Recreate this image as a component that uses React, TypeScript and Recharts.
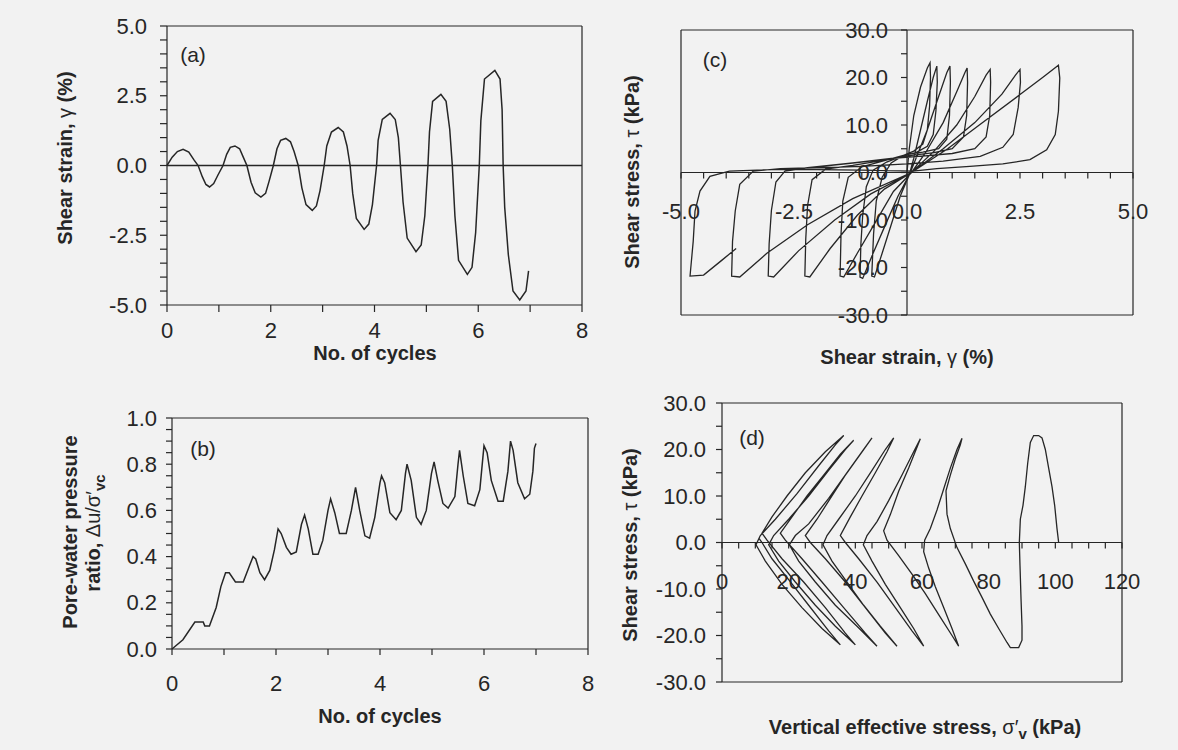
import React from "react";
import { LineChart, Line, XAxis, YAxis, ReferenceLine } from "recharts";

const W = 1178;
const H = 750;
const INK = "#262626";
const BG = "#f2f2f2";
const FONT = "'Liberation Sans', Arial, sans-serif";
const TICK_FS = 22;
const TITLE_FS = 20;

// (a) shear strain (%) against number of cycles
const strainHistory: [number, number][] = [
  [0.0, 0.0], [0.1, 0.3], [0.2, 0.5], [0.31, 0.58], [0.42, 0.48], [0.52, 0.2],
  [0.6, 0.0], [0.68, -0.4], [0.75, -0.68], [0.82, -0.77], [0.9, -0.65], [0.98, -0.35],
  [1.08, 0.0], [1.15, 0.4], [1.22, 0.65], [1.31, 0.7], [1.4, 0.6], [1.47, 0.3],
  [1.54, 0.0], [1.62, -0.6], [1.7, -0.98], [1.81, -1.13], [1.9, -1.0], [1.97, -0.55],
  [2.05, 0.0], [2.12, 0.6], [2.19, 0.9], [2.29, 0.97], [2.38, 0.85], [2.45, 0.5],
  [2.53, 0.0], [2.6, -0.8], [2.68, -1.4], [2.8, -1.61], [2.88, -1.45], [2.95, -0.9],
  [3.03, 0.0], [3.08, 0.7], [3.17, 1.2], [3.3, 1.36], [3.4, 1.2], [3.47, 0.7],
  [3.53, 0.0], [3.58, -1.0], [3.65, -1.9], [3.8, -2.29], [3.89, -2.1], [3.96, -1.4],
  [4.04, 0.0], [4.07, 0.9], [4.15, 1.65], [4.3, 1.87], [4.4, 1.65], [4.46, 1.0],
  [4.5, 0.0], [4.55, -1.3], [4.63, -2.6], [4.8, -3.09], [4.9, -2.85], [4.97, -1.8],
  [5.03, 0.0], [5.06, 1.2], [5.12, 2.3], [5.28, 2.55], [5.38, 2.3], [5.45, 1.3],
  [5.5, 0.0], [5.55, -1.8], [5.62, -3.4], [5.79, -3.9], [5.88, -3.65], [5.95, -2.4],
  [6.02, 0.0], [6.05, 1.6], [6.12, 3.1], [6.32, 3.41], [6.42, 3.1], [6.46, 2.0],
  [6.48, 0.0], [6.51, -1.5], [6.58, -3.2], [6.67, -4.5], [6.8, -4.82], [6.92, -4.5],
  [6.97, -3.78],
];

// (b) pore-water pressure ratio against number of cycles
const poreRatioHistory: [number, number][] = [
  [0, 0], [0.21, 0.04], [0.44, 0.117], [0.6, 0.117], [0.63, 0.1], [0.72, 0.1],
  [0.85, 0.18], [0.94, 0.27], [1.03, 0.33], [1.1, 0.33], [1.22, 0.29], [1.37, 0.29],
  [1.49, 0.36], [1.56, 0.4], [1.61, 0.39], [1.69, 0.33], [1.78, 0.3], [1.88, 0.34],
  [1.97, 0.43], [2.04, 0.52], [2.1, 0.5], [2.2, 0.44], [2.29, 0.41], [2.39, 0.42],
  [2.49, 0.54], [2.55, 0.58], [2.62, 0.52], [2.71, 0.41], [2.81, 0.41], [2.9, 0.47],
  [3.0, 0.6], [3.05, 0.65], [3.13, 0.59], [3.22, 0.5], [3.35, 0.5], [3.45, 0.6],
  [3.53, 0.7], [3.61, 0.6], [3.71, 0.49], [3.8, 0.48], [3.9, 0.57], [4.0, 0.72],
  [4.03, 0.75], [4.09, 0.72], [4.19, 0.59], [4.31, 0.56], [4.41, 0.6], [4.49, 0.76],
  [4.52, 0.8], [4.6, 0.73], [4.7, 0.57], [4.79, 0.54], [4.89, 0.6], [4.99, 0.76],
  [5.04, 0.81], [5.11, 0.73], [5.21, 0.63], [5.31, 0.61], [5.44, 0.66], [5.5, 0.8],
  [5.53, 0.86], [5.6, 0.75], [5.69, 0.63], [5.82, 0.62], [5.92, 0.69], [6.0, 0.88],
  [6.06, 0.85], [6.14, 0.73], [6.27, 0.64], [6.37, 0.64], [6.46, 0.77], [6.51, 0.9],
  [6.56, 0.86], [6.65, 0.72], [6.78, 0.65], [6.88, 0.67], [6.94, 0.77], [6.97, 0.87],
  [7.0, 0.89],
];

// (c) shear stress (kPa) against shear strain (%)
const stressStrainLoops: [number, number][] = [
  [0, 0], [0.05, 5], [0.15, 12], [0.3, 18], [0.45, 22], [0.51, 23.1],
  [0.52, 20], [0.5, 14], [0.45, 9], [0.35, 6], [0.15, 4.5], [-0.1, 3.5], [-0.35, 2],
  [-0.55, -1], [-0.68, -6], [-0.74, -13], [-0.78, -21.8],
  [-0.72, -22], [-0.55, -17], [-0.35, -11], [-0.15, -5], [0.05, -0.5], [0.15, 3],
  [0.3, 9], [0.45, 15], [0.58, 20], [0.66, 22.4],
  [0.67, 19], [0.64, 13], [0.58, 8], [0.45, 5.5], [0.2, 4.2], [-0.1, 3.5], [-0.45, 2.2],
  [-0.75, 0.5], [-0.9, -3], [-0.98, -9], [-1.02, -15], [-1.04, -22],
  [-0.98, -22.3], [-0.75, -17], [-0.5, -11.5], [-0.2, -5], [0.05, -0.5], [0.2, 3],
  [0.45, 9], [0.7, 16], [0.88, 21], [0.95, 22.4],
  [0.96, 19], [0.94, 12], [0.88, 7], [0.7, 5], [0.35, 4.3], [0, 3.8], [-0.5, 2.5],
  [-1.0, 1.2], [-1.3, -1], [-1.42, -6], [-1.46, -13], [-1.48, -21.8],
  [-1.4, -22], [-1.1, -17], [-0.7, -10.5], [-0.3, -4], [0.1, 0], [0.4, 4], [0.8, 10.5],
  [1.1, 17], [1.28, 21], [1.33, 22],
  [1.34, 19], [1.32, 12], [1.25, 7.5], [1.0, 5], [0.6, 4.2], [0.1, 3.6], [-0.5, 2.6],
  [-1.2, 1.5], [-1.8, 0.7], [-2.1, -1.5], [-2.2, -7], [-2.24, -14], [-2.26, -21.8],
  [-2.15, -22], [-1.7, -16], [-1.1, -9], [-0.5, -3.5], [0.1, 0], [0.6, 4.5], [1.1, 10],
  [1.5, 16], [1.75, 20.5], [1.84, 21.7],
  [1.85, 19], [1.83, 12], [1.75, 7.5], [1.5, 5], [1.0, 4], [0.4, 3.5], [-0.3, 3.0],
  [-1.2, 2.0], [-2.2, 1.0], [-2.7, 0.3], [-2.9, -2], [-3.0, -8], [-3.05, -15], [-3.07, -21.8],
  [-2.95, -22], [-2.4, -16.5], [-1.6, -10], [-0.8, -4.5], [0.1, 0], [0.8, 5], [1.5, 10.5],
  [2.1, 16.5], [2.4, 20.5], [2.5, 21.7],
  [2.51, 19], [2.46, 13.7], [2.35, 8], [2.12, 5.3], [1.62, 3.4], [0.8, 2.4], [0, 1.8],
  [-1.0, 1.3], [-2.0, 1.0], [-2.8, 0.8], [-3.4, 0.3], [-3.7, -2.5], [-3.8, -8.1],
  [-3.86, -14.5], [-3.88, -21.8],
  [-3.7, -22], [-3.1, -17], [-2.2, -11], [-1.2, -5.5], [0.1, 0], [0.9, 5], [1.6, 10],
  [2.5, 16.4], [3.0, 20], [3.35, 22.6],
  [3.38, 19.9], [3.35, 12.9], [3.28, 8.0], [3.09, 4.8], [2.72, 2.7], [2.12, 1.8],
  [1.39, 1.3], [0.66, 0.8], [0.13, 0.3], [-1.0, 0.5], [-2.0, 0.6], [-3.0, 0.6],
  [-3.93, 0.3], [-4.36, -0.8], [-4.58, -3.9], [-4.69, -8.1], [-4.73, -14.5], [-4.8, -21.8],
  [-4.5, -21.6], [-4.1, -18.5], [-3.78, -16],
];

// (d) shear stress (kPa) against vertical effective stress (kPa)
const stressPath: [number, number][] = [
  [101, 0], [100.5, 3], [99.8, 8], [99, 12], [98, 16], [97, 20], [96, 22.5], [95, 23],
  [93.5, 23], [92.5, 21.5], [91.7, 17], [91, 12], [90.3, 8], [89.5, 5], [89.2, 0],
  [89.4, -5], [89.7, -12], [90, -18], [90, -21], [89, -22.6], [86.5, -22.6], [85.5, -21.5],
  [83, -18.5], [80.5, -15.4], [78, -11.8], [75.5, -8.3], [73, -4.6], [70.5, -1.1],
  [68.5, 3], [67.5, 6.1], [67.2, 11.1],
  [68.5, 14.5], [70, 18], [71.5, 21], [72, 22.4],
  [70.5, 20], [68.5, 16], [66.5, 11.5], [64.5, 7], [62.5, 3], [60.8, 0.5],
  [60.5, -2], [62, -5.5], [64, -9.5], [66.5, -14], [69, -18.5], [71, -22.3],
  [69, -20], [65, -15.5], [61, -11], [57, -6.8], [53, -2.8], [49.5, 0.5], [48.5, 2.5],
  [50.5, 6], [53, 11], [56, 16], [58.5, 20.5], [59.5, 22.3],
  [57.5, 19.5], [54, 14.5], [50, 9], [46.5, 4.5], [43.5, 1.5], [42.4, -0.5],
  [45, -4], [49, -9], [53.5, -14], [57.5, -18.5], [60.5, -22.3],
  [57, -19], [52, -14], [46.5, -8.5], [41, -3.5], [37, 0], [35.5, 1.5],
  [38.5, 5.5], [42, 10], [46, 15], [49.5, 19.5], [51.5, 22.5],
  [49, 20], [45, 15.5], [40, 10], [35, 5], [31.5, 1.5], [30.3, -0.5],
  [33, -4], [37.5, -8.5], [42.5, -13.5], [47.5, -18], [52.5, -22.3],
  [49, -19.5], [43, -14], [37, -8.5], [31, -3.5], [26.5, 0], [25, 1.5],
  [28.5, 5], [32.5, 9.5], [37, 14.5], [41.5, 19], [45, 22.5],
  [42.5, 20], [37.5, 15], [32, 9.5], [26, 4], [22, 1.5], [20.2, -0.5],
  [23, -4], [28, -8.5], [34, -13.5], [40.5, -18], [46.5, -22.3],
  [43, -19.5], [36.5, -14], [30, -8.5], [24, -3.5], [19, 0.5], [17.5, 2],
  [21, 5.5], [25.5, 10], [30.5, 14.5], [35.5, 19], [39.5, 22],
  [37, 20], [32, 15.5], [26, 10], [20, 5], [15.5, 1.5], [14, -0.5],
  [17, -4], [22, -8.5], [28, -13.5], [34, -18], [40, -22],
  [37, -19.5], [31, -14], [24.5, -8.5], [18, -3.5], [13.5, 0.5], [12, 2],
  [15, 5.5], [19.5, 10], [25, 15], [31, 19.5], [36.5, 23],
  [34, 21], [29, 16.5], [22.5, 10.5], [16, 5], [11.5, 1.5], [10.2, -0.5],
  [13, -4], [18, -9], [24, -14], [30, -18.5], [35.5, -22],
  [32, -19], [26, -13.5], [20, -8], [15, -3.5], [12, 0], [11, 1],
];

// ticks and labels
const cycleTicks = [0, 1, 2, 3, 4, 5, 6, 7, 8];
const cycleLabels = [0, 2, 4, 6, 8];
const strainTicks = [-5, -4.5, -4, -3.5, -3, -2.5, -2, -1.5, -1, -0.5, 0, 0.5, 1, 1.5, 2, 2.5, 3, 3.5, 4, 4.5, 5];
const strainLabels = [-5, -2.5, 0, 2.5, 5];
const ruTicks = [0, 0.05, 0.1, 0.15, 0.2, 0.25, 0.3, 0.35, 0.4, 0.45, 0.5, 0.55, 0.6, 0.65, 0.7, 0.75, 0.8, 0.85, 0.9, 0.95, 1];
const ruLabels = [0, 0.2, 0.4, 0.6, 0.8, 1];
const tauTicks = [-30, -25, -20, -15, -10, -5, 0, 5, 10, 15, 20, 25, 30];
const tauLabels = [-30, -20, -10, 0, 10, 20, 30];
const sigmaTicks = [0, 5, 10, 15, 20, 25, 30, 35, 40, 45, 50, 55, 60, 65, 70, 75, 80, 85, 90, 95, 100, 105, 110, 115, 120];
const sigmaLabels = [0, 20, 40, 60, 80, 100, 120];

type Box = { left: number; top: number; right: number; bottom: number };
const boxA: Box = { left: 167, top: 26, right: 582, bottom: 305 };
const boxB: Box = { left: 172, top: 418, right: 588, bottom: 649 };
const boxC: Box = { left: 681, top: 30, right: 1133, bottom: 315 };
const boxD: Box = { left: 722, top: 403, right: 1122, bottom: 682 };
const midX = (b: Box) => (b.left + b.right) / 2;
const midY = (b: Box) => (b.top + b.bottom) / 2;

// axes get 1px of room so recharts still renders them
const AX = 1;
const margins = (b: Box) => ({ top: b.top, left: b.left - AX, right: W - b.right, bottom: H - b.bottom - AX });
const rows = (pts: [number, number][]) => pts.map(([x, y]) => ({ x, y }));
const isLabel = (labels: number[], v: number) => labels.some((l) => Math.abs(l - v) < 1e-6);

function yTick(axisX: number, labels: number[], len: number, gap: number, digits: number) {
  return (p: any) => {
    const v = Number(p.payload.value);
    return (
      <g>
        <line x1={axisX - len} x2={axisX} y1={p.y} y2={p.y} stroke={INK} strokeWidth={1.2} />
        {isLabel(labels, v) ? (
          <text x={axisX - gap} y={p.y} textAnchor="end" dominantBaseline="central"
            fontSize={TICK_FS} fontFamily={FONT} fill={INK}>{v.toFixed(digits)}</text>
        ) : null}
      </g>
    );
  };
}

function xTick(axisY: number, labels: number[], len: number, gap: number, digits: number) {
  return (p: any) => {
    const v = Number(p.payload.value);
    return (
      <g>
        <line x1={p.x} x2={p.x} y1={axisY} y2={axisY + len} stroke={INK} strokeWidth={1.2} />
        {isLabel(labels, v) ? (
          <text x={p.x} y={axisY + gap} textAnchor="middle" dominantBaseline="central"
            fontSize={TICK_FS} fontFamily={FONT} fill={INK}>{v.toFixed(digits)}</text>
        ) : null}
      </g>
    );
  };
}

const layer: React.CSSProperties = { position: "absolute", left: 0, top: 0 };
const lineProps = { type: "linear" as const, dataKey: "y", stroke: INK, strokeWidth: 1.5, dot: false, isAnimationActive: false };

export default function App() {
  return (
    <div style={{ position: "absolute", left: 0, top: 0, width: W, height: H, background: BG, overflow: "hidden" }}>
      {/* (a) */}
      <div style={layer}>
        <LineChart width={W} height={H} data={rows(strainHistory)} margin={margins(boxA)}>
          <XAxis type="number" dataKey="x" domain={[0, 8]} ticks={cycleTicks} interval={0} height={AX}
            axisLine={{ stroke: INK, strokeWidth: 1.2 }} tickLine={false}
            tick={xTick(boxA.bottom, cycleLabels, 7, 25, 0)} />
          <YAxis type="number" domain={[-5, 5]} ticks={strainTicks} interval={0} width={AX}
            axisLine={{ stroke: INK, strokeWidth: 1.2 }} tickLine={false}
            tick={yTick(boxA.left, strainLabels, 7, 20, 1)} />
          <ReferenceLine y={5} stroke={INK} strokeWidth={1.2} />
          <ReferenceLine x={8} stroke={INK} strokeWidth={1.2} />
          <ReferenceLine y={0} stroke={INK} strokeWidth={1.4} />
          <Line {...lineProps} />
        </LineChart>
      </div>

      {/* (b) */}
      <div style={layer}>
        <LineChart width={W} height={H} data={rows(poreRatioHistory)} margin={margins(boxB)}>
          <XAxis type="number" dataKey="x" domain={[0, 8]} ticks={cycleTicks} interval={0} height={AX}
            axisLine={{ stroke: INK, strokeWidth: 1.2 }} tickLine={false}
            tick={xTick(boxB.bottom, cycleLabels, 6, 34, 0)} />
          <YAxis type="number" domain={[0, 1]} ticks={ruTicks} interval={0} width={AX}
            axisLine={{ stroke: INK, strokeWidth: 1.2 }} tickLine={false}
            tick={yTick(boxB.left, ruLabels, 6, 15, 1)} />
          <ReferenceLine y={1} stroke={INK} strokeWidth={1.2} />
          <ReferenceLine x={8} stroke={INK} strokeWidth={1.2} />
          <Line {...lineProps} />
        </LineChart>
      </div>

      {/* (c) */}
      <div style={layer}>
        <LineChart width={W} height={H} data={rows(stressStrainLoops)} margin={margins(boxC)}>
          <XAxis type="number" dataKey="x" domain={[-5, 5]} ticks={strainTicks} interval={0} height={AX}
            axisLine={false} tickLine={false}
            tick={xTick(midY(boxC), strainLabels, 6, 39, 1)} />
          <YAxis type="number" domain={[-30, 30]} ticks={tauTicks} interval={0} width={AX}
            axisLine={false} tickLine={false}
            tick={yTick(midX(boxC), tauLabels, 6, 19, 1)} />
          <ReferenceLine y={30} stroke={INK} strokeWidth={1.2} />
          <ReferenceLine y={-30} stroke={INK} strokeWidth={1.2} />
          <ReferenceLine x={-5} stroke={INK} strokeWidth={1.2} />
          <ReferenceLine x={5} stroke={INK} strokeWidth={1.2} />
          <ReferenceLine x={0} stroke={INK} strokeWidth={1.2} />
          <ReferenceLine y={0} stroke={INK} strokeWidth={1.2} />
          <Line {...lineProps} strokeWidth={1.3} />
        </LineChart>
      </div>

      {/* (d) */}
      <div style={layer}>
        <LineChart width={W} height={H} data={rows(stressPath)} margin={margins(boxD)}>
          <XAxis type="number" dataKey="x" domain={[0, 120]} ticks={sigmaTicks} interval={0} height={AX}
            axisLine={false} tickLine={false}
            tick={xTick(midY(boxD), sigmaLabels, 6, 39, 0)} />
          <YAxis type="number" domain={[-30, 30]} ticks={tauTicks} interval={0} width={AX}
            axisLine={{ stroke: INK, strokeWidth: 1.2 }} tickLine={false}
            tick={yTick(boxD.left, tauLabels, 6, 16, 1)} />
          <ReferenceLine y={30} stroke={INK} strokeWidth={1.2} />
          <ReferenceLine y={-30} stroke={INK} strokeWidth={1.2} />
          <ReferenceLine x={120} stroke={INK} strokeWidth={1.2} />
          <ReferenceLine y={0} stroke={INK} strokeWidth={1.2} />
          <Line {...lineProps} strokeWidth={1.3} />
        </LineChart>
      </div>

      {/* titles and panel letters */}
      <svg width={W} height={H} style={{ ...layer, pointerEvents: "none" }} fontFamily={FONT} fill={INK}>
        <g fontSize={TITLE_FS} fontWeight="bold" textAnchor="middle" dominantBaseline="central">
          <text x={65} y={158} transform="rotate(-90 65 158)">
            Shear strain, <tspan fontWeight="normal">γ</tspan> (%)
          </text>
          <text x={375} y={353}>No. of cycles</text>
          <text x={70} y={532} transform="rotate(-90 70 532)">Pore-water pressure</text>
          <text x={93} y={533} transform="rotate(-90 93 533)">
            ratio, <tspan fontWeight="normal">Δu/σ′</tspan>
            <tspan fontSize={15} dy={6}>vc</tspan>
          </text>
          <text x={380} y={716}>No. of cycles</text>
          <text x={632} y={172} transform="rotate(-90 632 172)">
            Shear stress, <tspan fontWeight="normal">τ</tspan> (kPa)
          </text>
          <text x={907} y={357}>
            Shear strain, <tspan fontWeight="normal">γ</tspan> (%)
          </text>
          <text x={630} y={545} transform="rotate(-90 630 545)">
            Shear stress, <tspan fontWeight="normal">τ</tspan> (kPa)
          </text>
          <text x={925} y={727}>
            Vertical effective stress, <tspan fontWeight="normal">σ′</tspan>
            <tspan fontSize={15} dy={6}>v</tspan>
            <tspan dy={-6}> (kPa)</tspan>
          </text>
        </g>
        <g fontSize={21} textAnchor="middle" dominantBaseline="central">
          <text x={193} y={54}>(a)</text>
          <text x={203} y={448}>(b)</text>
          <text x={715} y={59}>(c)</text>
          <text x={752} y={437}>(d)</text>
        </g>
      </svg>
    </div>
  );
}
